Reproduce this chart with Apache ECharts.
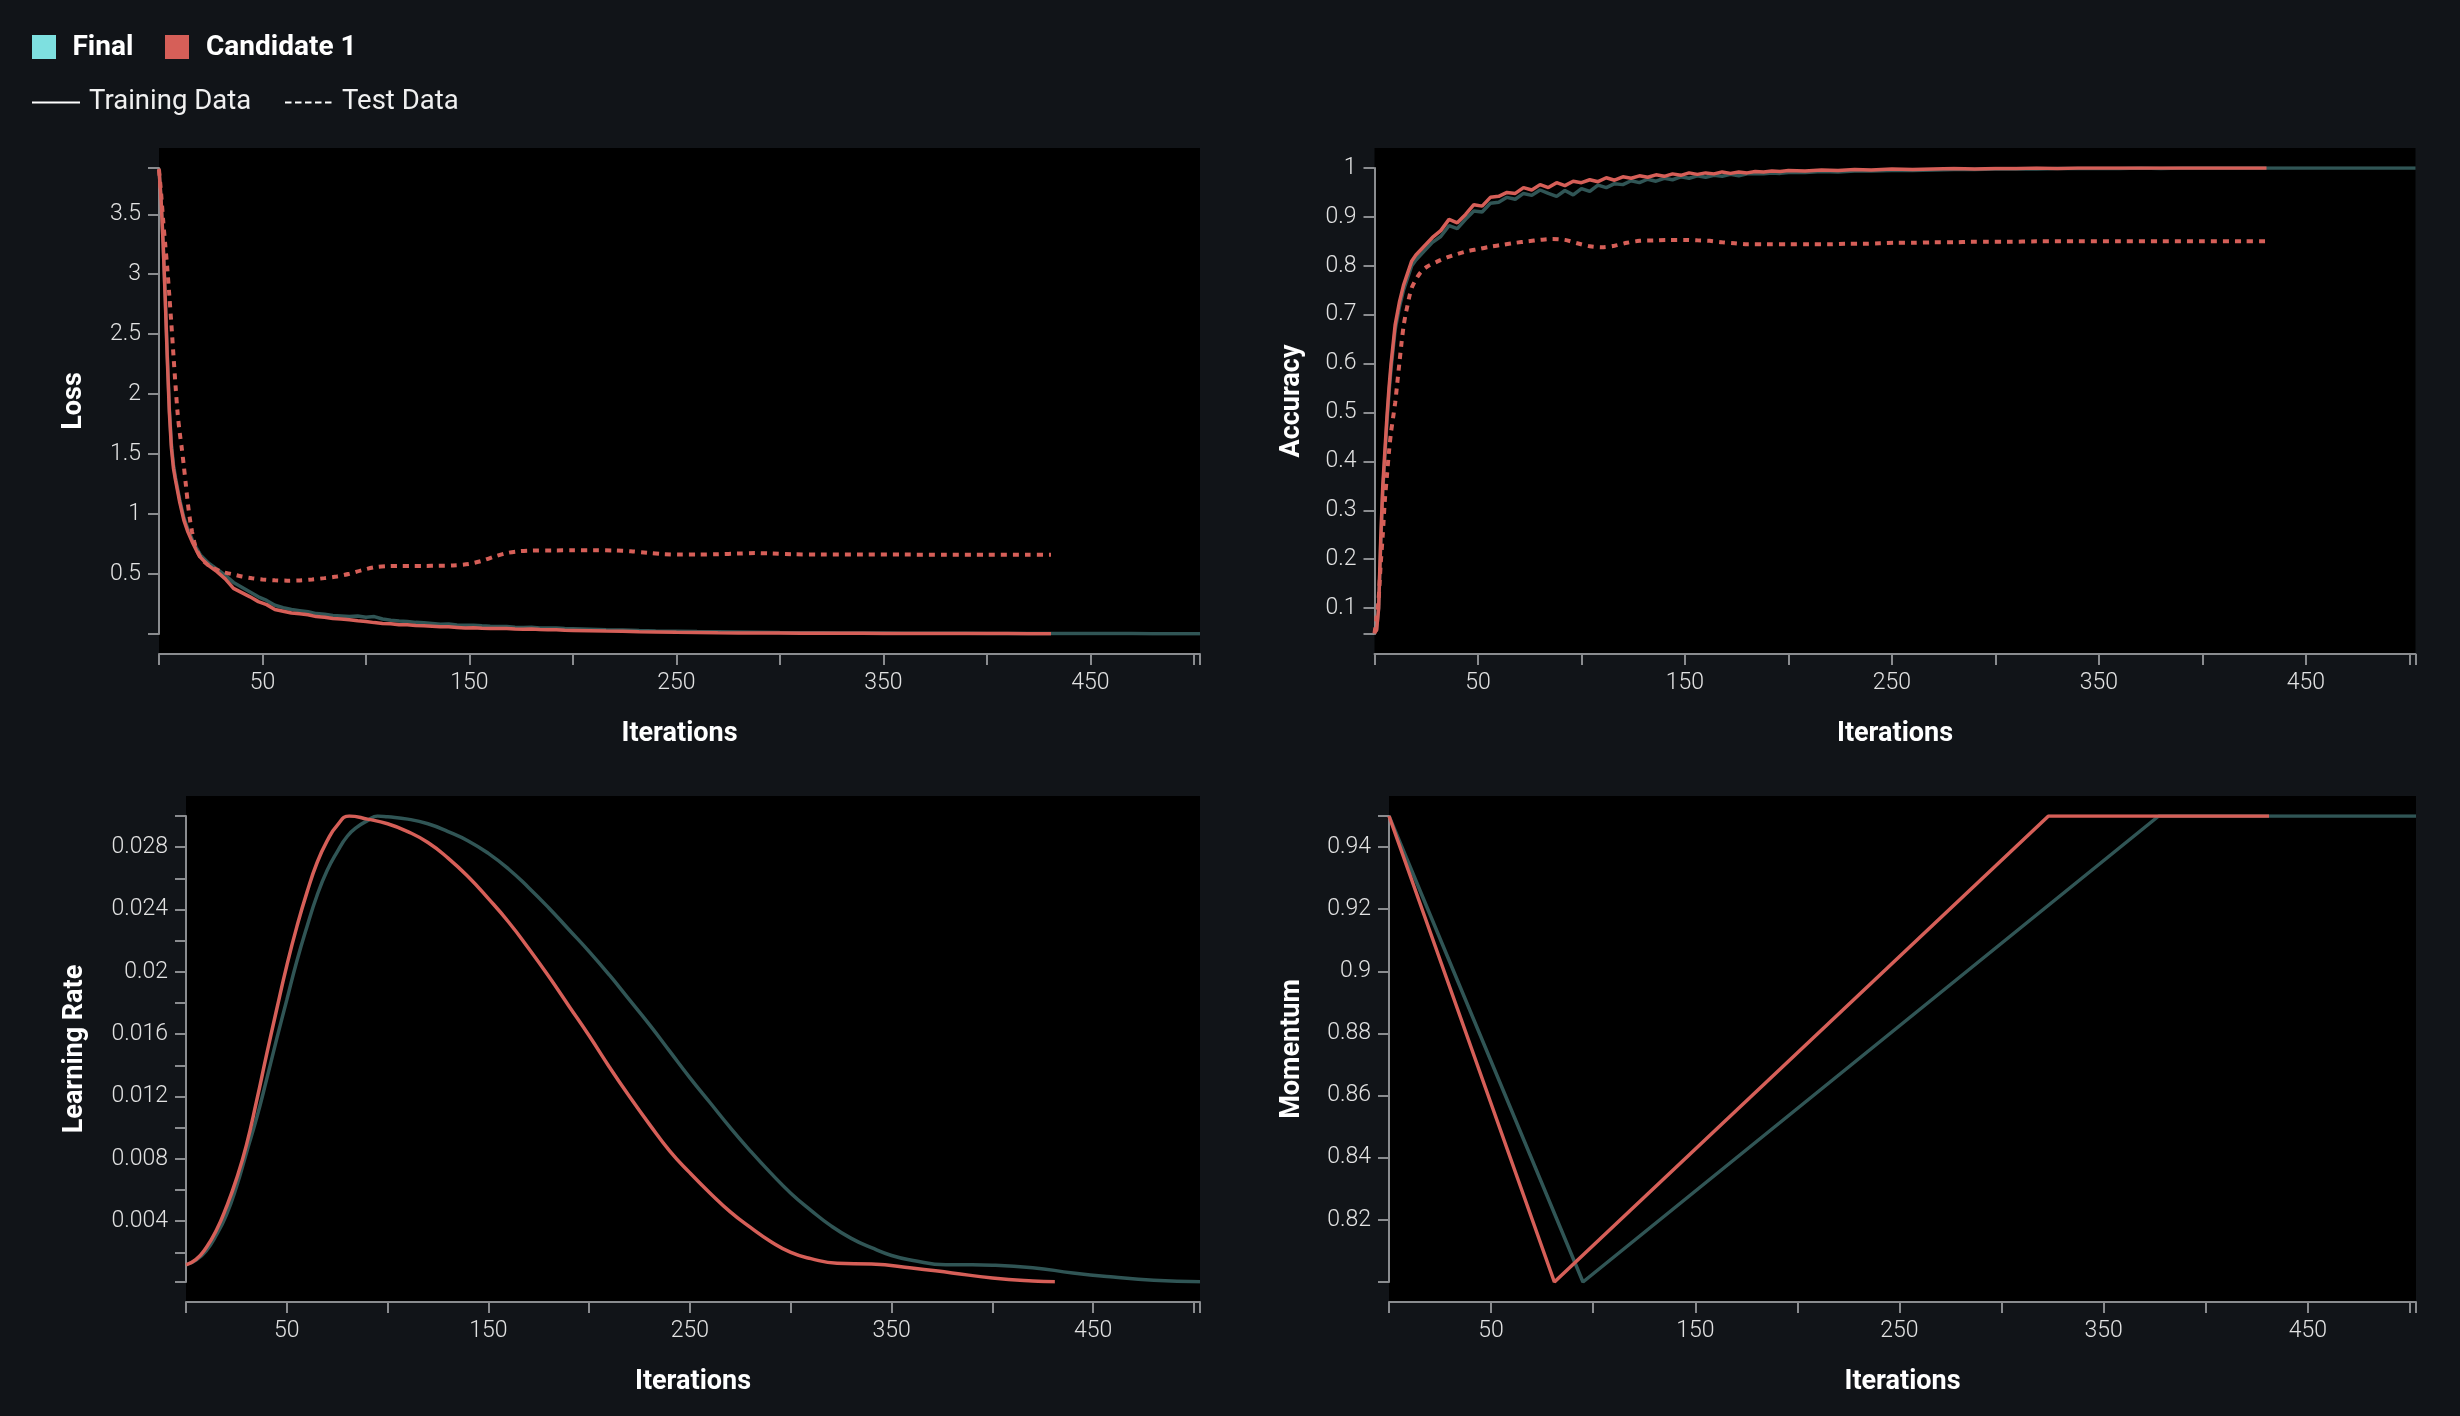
<!DOCTYPE html>
<html>
<head>
<meta charset="utf-8">
<title>Training curves</title>
<script src="https://cdn.jsdelivr.net/npm/echarts@6.0.0/dist/echarts.min.js"></script>
<style>
  html, body { margin: 0; padding: 0; background: #111418; }
  #chart { width: 2460px; height: 1416px; }
</style>
</head>
<body>
<div id="chart"></div>
<script>
// ---------- values ----------
// x axis (iterations)
const xMax = 503
const xTickValues = [0, 50, 100, 150, 200, 250, 300, 350, 400, 450, 500, 503]
const xLabelValues = [50, 150, 250, 350, 450]

// y axis ticks / labels
const lossTicks = [0, 0.5, 1, 1.5, 2, 2.5, 3, 3.5, 3.886]
const lossLabels = [0.5, 1, 1.5, 2, 2.5, 3, 3.5]
const accTicks = [0.047, 0.1, 0.2, 0.3, 0.4, 0.5, 0.6, 0.7, 0.8, 0.9, 1]
const accLabels = [0.1, 0.2, 0.3, 0.4, 0.5, 0.6, 0.7, 0.8, 0.9, 1]
const lrTicks = [0.0001, 0.002, 0.004, 0.006, 0.008, 0.01, 0.012, 0.014, 0.016, 0.018, 0.02, 0.022, 0.024, 0.026, 0.028, 0.03]
const lrLabels = [0.004, 0.008, 0.012, 0.016, 0.02, 0.024, 0.028]
const momTicks = [0.8, 0.82, 0.84, 0.86, 0.88, 0.9, 0.92, 0.94, 0.95]
const momLabels = [0.82, 0.84, 0.86, 0.88, 0.9, 0.92, 0.94]

// Candidate 1 training (iterations 0..431)
const candTrainIter = [
  0, 1, 2, 3, 4, 5, 6, 7, 8,
  10, 12, 14, 16, 18, 20,
  24, 28, 32, 36, 40, 44, 48, 52, 56, 60,
  64, 68, 72, 76, 80, 84, 88, 92, 96, 100,
  104, 108, 112, 116, 120, 124, 128, 132, 136, 140,
  144, 148, 152, 156, 160, 164, 168, 172, 176, 180,
  184, 188, 192, 196, 200,
  208, 216, 224, 232, 240,
  250, 260, 270, 280, 290, 300, 310, 320, 330, 340,
  350, 360, 370, 380, 390, 400, 410, 420, 431
]
const candTrainLoss = [
  3.88, 3.62, 3.25, 2.80, 2.30, 1.85, 1.55, 1.38, 1.28,
  1.10, 0.95, 0.85, 0.77, 0.70, 0.64,
  0.57, 0.52, 0.46, 0.38, 0.345, 0.31, 0.27, 0.245, 0.205, 0.19,
  0.175, 0.168, 0.16, 0.145, 0.14, 0.13, 0.125, 0.118, 0.11, 0.105,
  0.095, 0.088, 0.085, 0.078, 0.077, 0.07, 0.068, 0.064, 0.06, 0.06,
  0.055, 0.05, 0.052, 0.048, 0.046, 0.045, 0.046, 0.041, 0.04, 0.041,
  0.037, 0.035, 0.036, 0.031, 0.03,
  0.027, 0.024, 0.022, 0.019, 0.017,
  0.014, 0.012, 0.01, 0.009, 0.008, 0.008, 0.007, 0.007, 0.006, 0.006,
  0.005, 0.005, 0.005, 0.004, 0.004, 0.004, 0.004, 0.003, 0.003
]
const candTrainAcc = [
  0.05, 0.055, 0.10, 0.24, 0.35, 0.42, 0.49, 0.55, 0.60,
  0.68, 0.725, 0.76, 0.785, 0.81, 0.822,
  0.84, 0.858, 0.872, 0.895, 0.888, 0.905, 0.925, 0.922, 0.94, 0.942,
  0.95, 0.948, 0.96, 0.955, 0.966, 0.96, 0.97, 0.964, 0.973, 0.97,
  0.976, 0.972, 0.98, 0.975, 0.982, 0.979, 0.984, 0.981, 0.986, 0.983,
  0.988, 0.985, 0.99, 0.987, 0.99, 0.988, 0.992, 0.989, 0.992, 0.99,
  0.993, 0.992, 0.994, 0.993, 0.995,
  0.994, 0.996, 0.995, 0.997, 0.996,
  0.998, 0.997, 0.998, 0.999, 0.998, 0.999, 0.999, 1, 0.999, 1,
  1, 1, 1, 1, 1, 1, 1, 1, 1
]

// Final training (iterations 0..503)
const finalTrainIter = [
  0, 1, 2, 3, 4, 5, 6, 7, 8,
  10, 12, 14, 16, 18, 20,
  24, 28, 32, 36, 40, 44, 48, 52, 56, 60,
  64, 68, 72, 76, 80, 84, 88, 92, 96, 100,
  104, 108, 112, 116, 120, 124, 128, 132, 136, 140,
  144, 148, 152, 156, 160, 164, 168, 172, 176, 180,
  184, 188, 192, 196, 200,
  208, 216, 224, 232, 240,
  250, 260, 270, 280, 290, 300, 310, 320, 330, 340,
  350, 360, 370, 380, 390, 400, 410, 420,
  430, 440, 450, 460, 470, 480, 490, 503
]
const finalTrainLoss = [
  3.88, 3.62, 3.26, 2.82, 2.33, 1.88, 1.58, 1.41, 1.30,
  1.12, 0.97, 0.87, 0.79, 0.72, 0.66,
  0.59, 0.54, 0.49, 0.43, 0.39, 0.35, 0.31, 0.28, 0.24, 0.22,
  0.205, 0.195, 0.185, 0.17, 0.165, 0.155, 0.15, 0.145, 0.15, 0.14,
  0.145, 0.125, 0.115, 0.108, 0.105, 0.097, 0.093, 0.088, 0.082, 0.083,
  0.076, 0.072, 0.073, 0.068, 0.064, 0.062, 0.063, 0.057, 0.055, 0.056,
  0.051, 0.049, 0.05, 0.045, 0.043,
  0.039, 0.035, 0.033, 0.029, 0.026,
  0.023, 0.02, 0.018, 0.016, 0.014, 0.012, 0.011, 0.01, 0.009, 0.008,
  0.008, 0.007, 0.007, 0.006, 0.006, 0.005, 0.005, 0.005,
  0.005, 0.004, 0.004, 0.004, 0.004, 0.003, 0.003, 0.003
]
const finalTrainAcc = [
  0.05, 0.055, 0.10, 0.23, 0.34, 0.41, 0.48, 0.54, 0.59,
  0.67, 0.715, 0.75, 0.775, 0.80, 0.812,
  0.83, 0.848, 0.86, 0.882, 0.876, 0.895, 0.912, 0.91, 0.928, 0.93,
  0.94, 0.936, 0.948, 0.944, 0.955, 0.948, 0.942, 0.954, 0.945, 0.958,
  0.952, 0.965, 0.96, 0.968, 0.966, 0.974, 0.97, 0.977, 0.973, 0.979,
  0.976, 0.982, 0.979, 0.984, 0.981, 0.985, 0.983, 0.987, 0.984, 0.988,
  0.989, 0.988, 0.99, 0.989, 0.991,
  0.991, 0.993, 0.992, 0.994, 0.994,
  0.995, 0.995, 0.996, 0.997, 0.997, 0.998, 0.998, 0.998, 0.999, 0.999,
  0.999, 0.999, 1, 0.999, 1, 1, 1, 1,
  1, 1, 1, 1, 1, 1, 1, 1
]

// Candidate 1 test data
const candTestIter = [
  0, 1, 2, 3, 4, 5, 6, 7, 8, 9, 10, 11, 12, 13, 14, 15, 16, 17, 18,
  20, 22, 25,
  30, 35, 40, 45, 50,
  56, 62, 68, 74, 80, 86, 92, 98, 104,
  110, 116, 122, 128,
  135, 142, 150,
  156, 162, 168, 174, 180,
  190, 200, 210, 220,
  228, 236, 244, 252, 260,
  270, 280, 288, 296, 306,
  320, 340, 360, 380, 400, 420, 431
]
const candTestLoss = [
  3.87, 3.68, 3.45, 3.25, 3.05, 2.82, 2.58, 2.32, 2.07, 1.84, 1.68, 1.55, 1.40, 1.24, 1.08, 0.95, 0.85, 0.77, 0.71,
  0.64, 0.60, 0.56,
  0.52, 0.50, 0.48, 0.465, 0.455,
  0.448, 0.445, 0.447, 0.455, 0.466, 0.48, 0.502, 0.532, 0.556,
  0.566, 0.568, 0.568, 0.568,
  0.569, 0.572, 0.585,
  0.61, 0.645, 0.675, 0.69, 0.695,
  0.697, 0.698, 0.698, 0.696,
  0.69, 0.677, 0.666, 0.662, 0.662,
  0.665, 0.671, 0.675, 0.671, 0.665,
  0.662, 0.662, 0.662, 0.661, 0.661, 0.661, 0.661
]
const candTestAcc = [
  0.048, 0.08, 0.12, 0.19, 0.25, 0.32, 0.37, 0.42, 0.46, 0.49, 0.52, 0.56, 0.60, 0.64, 0.675, 0.70, 0.72, 0.74, 0.755,
  0.772, 0.785, 0.797,
  0.808, 0.817, 0.824, 0.83, 0.834,
  0.839, 0.843, 0.847, 0.85, 0.853, 0.855, 0.853, 0.846, 0.84,
  0.838, 0.841, 0.847, 0.851,
  0.852, 0.853, 0.853,
  0.852, 0.851, 0.848, 0.846, 0.844,
  0.844, 0.844, 0.844, 0.844,
  0.845, 0.845, 0.846, 0.847, 0.847,
  0.848, 0.848, 0.849, 0.849, 0.849,
  0.85, 0.85, 0.85, 0.85, 0.85, 0.85, 0.85
]

// learning rate schedules
const candLrIter = [
  0, 5, 10, 15, 20, 25, 30, 35, 40, 45, 50, 55, 60, 65, 70, 75,
  81, 90,
  100, 110, 120, 130, 140, 150, 160, 170, 180, 190, 200,
  210, 220, 230, 240, 250, 260, 270, 280, 290, 300, 310,
  323, 340, 360, 380, 400, 420, 431
]
const candLr = [
  0.0012, 0.00155, 0.0023, 0.0034, 0.0049, 0.0067, 0.0089, 0.0117, 0.0147, 0.0176, 0.0204, 0.0229, 0.0251, 0.0270, 0.0284, 0.0294,
  0.0300, 0.0298,
  0.0295, 0.0290, 0.0283, 0.0273, 0.0261, 0.0247, 0.0232, 0.0215, 0.0197, 0.0178, 0.0159,
  0.0139, 0.0120, 0.0102, 0.0085, 0.0071, 0.0058, 0.0046, 0.0036, 0.0027, 0.0020, 0.0016,
  0.0013, 0.00125, 0.0010, 0.00068, 0.00036, 0.00016, 0.00011
]
const finalLrIter = [
  0, 5, 10, 15, 20, 25, 30, 35, 40, 45, 50, 55, 60, 65, 70, 75, 80, 85, 90, 95,
  100, 110, 120, 130, 140, 150, 160, 170, 180, 190, 200, 210, 220, 230,
  240, 250, 260, 270, 280, 290, 300, 310, 320, 330, 340, 350, 360,
  377, 390, 400, 420, 440, 460, 480, 503
]
const finalLr = [
  0.0012, 0.0015, 0.0021, 0.0031, 0.0044, 0.0062, 0.0084, 0.0106, 0.0131, 0.0157, 0.0182, 0.0207, 0.0229, 0.0249, 0.0265, 0.0277, 0.0287, 0.0293, 0.0297, 0.0300,
  0.02995, 0.0298, 0.0295, 0.0290, 0.0284, 0.0276, 0.0266, 0.0254, 0.0241, 0.0227, 0.0213, 0.0198, 0.0182, 0.0166,
  0.0149, 0.0132, 0.0116, 0.0100, 0.0085, 0.0071, 0.0058, 0.0047, 0.0037, 0.0029, 0.0023, 0.0018, 0.0015,
  0.0012, 0.0012, 0.00118, 0.00102, 0.00068, 0.00042, 0.00022, 0.00011
]

// momentum schedules
const candMomIter = [0, 81, 323, 431]
const candMom = [0.95, 0.80, 0.95, 0.95]
const finalMomIter = [0, 95, 377, 503]
const finalMom = [0.95, 0.80, 0.95, 0.95]

// ---------- styling ----------
const finalColor = '#7ee0e0'
const candColor = '#d65f58'
const axisColor = '#8a8c8f'
const labelColor = '#e2e2e2'
const fontFamily = 'Roboto, "Noto Sans", sans-serif'

const zip = (xs, ys) => xs.map((x, i) => [x, ys[i]])
const fmt = (v) => String(parseFloat(Number(v).toFixed(6)))

// black plot panels; the axes sit inside them with a vertical pad
const panels = [
  { left: 159, top: 148, width: 1041, height: 506 },
  { left: 1374.5, top: 148, width: 1041, height: 506 },
  { left: 186, top: 796, width: 1014, height: 506 },
  { left: 1389, top: 796, width: 1027, height: 506 }
]
const padY = 20

function xAxisFor(gridIndex) {
  return {
    gridIndex: gridIndex,
    type: 'value',
    min: 0,
    max: xMax,
    offset: padY,
    axisLine: { show: true, onZero: false, lineStyle: { color: axisColor, width: 2 } },
    axisTick: { show: true, length: 11, customValues: xTickValues, lineStyle: { color: axisColor, width: 2 } },
    axisLabel: {
      customValues: xLabelValues, formatter: fmt, margin: 18,
      color: labelColor, fontSize: 23, fontFamily: fontFamily, fontWeight: 300
    },
    splitLine: { show: false },
    name: 'Iterations',
    nameLocation: 'middle',
    nameGap: 67,
    nameMoveOverlap: false,
    nameTextStyle: { color: '#ffffff', fontSize: 27, fontWeight: 'bold', fontFamily: fontFamily }
  }
}

function yAxisFor(gridIndex, name, min, max, ticks, labels, nameGap) {
  return {
    gridIndex: gridIndex,
    type: 'value',
    min: min,
    max: max,
    axisLine: { show: true, onZero: false, lineStyle: { color: axisColor, width: 2 } },
    axisTick: { show: true, length: 11, customValues: ticks, lineStyle: { color: axisColor, width: 2 } },
    axisLabel: {
      customValues: labels, formatter: fmt, margin: 18,
      color: labelColor, fontSize: 23, fontFamily: fontFamily, fontWeight: 300
    },
    splitLine: { show: false },
    name: name,
    nameLocation: 'middle',
    nameGap: nameGap,
    nameMoveOverlap: false,
    nameTextStyle: { color: '#ffffff', fontSize: 27, fontWeight: 'bold', fontFamily: fontFamily }
  }
}

function lineSeries(name, axisIndex, data, color, opts) {
  opts = opts || {}
  return {
    name: name,
    type: 'line',
    xAxisIndex: axisIndex,
    yAxisIndex: axisIndex,
    data: data,
    showSymbol: false,
    symbol: 'none',
    smooth: opts.smooth || false,
    clip: true,
    z: opts.z || 2,
    lineStyle: {
      color: color,
      width: opts.dashed ? 4 : 3.5,
      opacity: opts.opacity == null ? 1 : opts.opacity,
      type: opts.dashed ? [6, 6] : 'solid',
      cap: 'butt'
    },
    emphasis: { disabled: true }
  }
}

const finalOpacity = 0.38

const option = {
  backgroundColor: '#111418',
  animation: false,
  textStyle: { fontFamily: fontFamily },
  grid: panels.map(p => ({
    left: p.left,
    top: p.top + padY,
    width: p.width,
    height: p.height - 2 * padY,
    show: false,
    outerBoundsMode: 'none'
  })),
  xAxis: [0, 1, 2, 3].map(xAxisFor),
  yAxis: [
    yAxisFor(0, 'Loss', 0, 3.886, lossTicks, lossLabels, 71),
    yAxisFor(1, 'Accuracy', 0.047, 1, accTicks, accLabels, 69),
    yAxisFor(2, 'Learning Rate', 0.0001, 0.03, lrTicks, lrLabels, 97),
    yAxisFor(3, 'Momentum', 0.8, 0.95, momTicks, momLabels, 83)
  ],
  series: [
    lineSeries('Final', 0, zip(finalTrainIter, finalTrainLoss), finalColor, { opacity: finalOpacity }),
    lineSeries('Candidate 1', 0, zip(candTrainIter, candTrainLoss), candColor, { z: 3 }),
    lineSeries('Candidate 1 Test', 0, zip(candTestIter, candTestLoss), candColor, { dashed: true, smooth: 0.3, z: 3 }),

    lineSeries('Final', 1, zip(finalTrainIter, finalTrainAcc), finalColor, { opacity: finalOpacity }),
    lineSeries('Candidate 1', 1, zip(candTrainIter, candTrainAcc), candColor, { z: 3 }),
    lineSeries('Candidate 1 Test', 1, zip(candTestIter, candTestAcc), candColor, { dashed: true, smooth: 0.3, z: 3 }),

    lineSeries('Final', 2, zip(finalLrIter, finalLr), finalColor, { opacity: finalOpacity, smooth: 0.5 }),
    lineSeries('Candidate 1', 2, zip(candLrIter, candLr), candColor, { smooth: 0.5, z: 3 }),

    lineSeries('Final', 3, zip(finalMomIter, finalMom), finalColor, { opacity: finalOpacity }),
    lineSeries('Candidate 1', 3, zip(candMomIter, candMom), candColor, { z: 3 })
  ],
  graphic: {
    elements: [
      // black plot panels
      ...panels.map(p => ({
        type: 'rect', silent: true, z: -10,
        shape: { x: p.left, y: p.top, width: p.width, height: p.height },
        style: { fill: '#000000' }
      })),
      // legend, first row
      { type: 'rect', shape: { x: 32, y: 35, width: 24, height: 24 }, style: { fill: finalColor } },
      { type: 'text', x: 72.5, y: 47.5, style: { text: 'Final', fill: '#ffffff', font: 'bold 28px ' + fontFamily, verticalAlign: 'middle' } },
      { type: 'rect', shape: { x: 165, y: 35, width: 24, height: 24 }, style: { fill: candColor } },
      { type: 'text', x: 206, y: 47.5, style: { text: 'Candidate 1', fill: '#ffffff', font: 'bold 28px ' + fontFamily, verticalAlign: 'middle' } },
      // legend, second row
      { type: 'line', shape: { x1: 32, y1: 102.5, x2: 80, y2: 102.5 }, style: { stroke: '#ffffff', lineWidth: 2 } },
      { type: 'text', x: 89, y: 102.5, style: { text: 'Training Data', fill: '#f0f0f0', font: '400 27.5px ' + fontFamily, verticalAlign: 'middle' } },
      { type: 'line', shape: { x1: 285, y1: 102.5, x2: 332, y2: 102.5 }, style: { stroke: '#ffffff', lineWidth: 2, lineDash: [6.5, 3.5] } },
      { type: 'text', x: 342, y: 102.5, style: { text: 'Test Data', fill: '#f0f0f0', font: '400 27.5px ' + fontFamily, verticalAlign: 'middle' } }
    ]
  }
}

const chart = echarts.init(document.getElementById('chart'))
chart.setOption(option)
</script>
</body>
</html>
